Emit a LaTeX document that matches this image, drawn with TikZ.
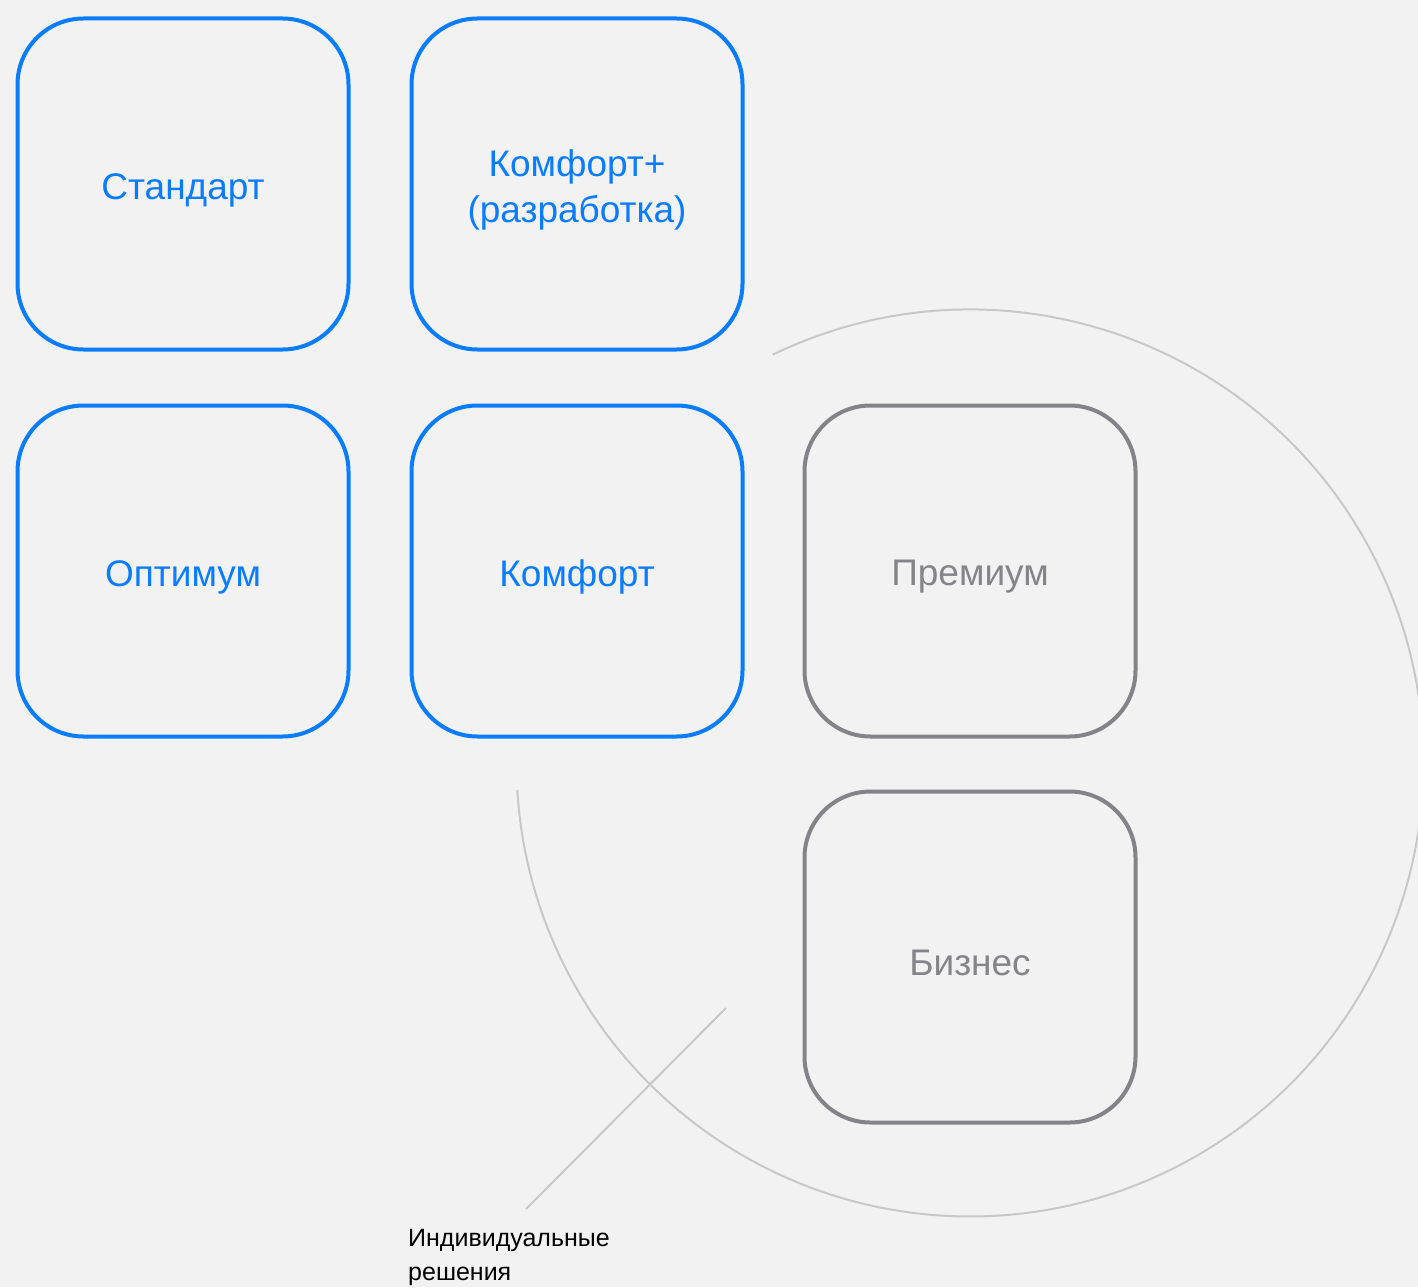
\documentclass[tikz,border=0pt]{standalone}
\usepackage{fontspec}
\setmainfont{Liberation Sans}
\definecolor{bg}{HTML}{F2F2F2}
\definecolor{blueline}{HTML}{0A7CFF}
\definecolor{greyline}{HTML}{848488}
\definecolor{greytext}{HTML}{858589}
\definecolor{circ}{HTML}{C8C8C8}
\newcommand\tlow[1]{\raisebox{-6pt}[\height][\depth]{#1}}
\begin{document}
\begin{tikzpicture}[x=1pt,y=-1pt,
  tile/.style={draw, line width=4pt, rounded corners=66pt, minimum width=331pt, minimum height=331pt, inner sep=0pt, align=center, font=\fontsize{37}{46}\selectfont},
  bluetile/.style={tile, draw=blueline, text=blueline},
  greytile/.style={tile, draw=greyline, text=greytext},
  thin/.style={draw=circ, line width=2pt}]
\fill[bg] (0,0) rectangle (1418,1287);
\useasboundingbox (0,0) rectangle (1418,1287);
\clip (0,0) rectangle (1418,1287);
% circle arc
\coordinate (cc) at (970,763);
\draw[thin] (cc) ++(-115.8:453.5) arc[start angle=-115.8, end angle=176.6, radius=453.5];
% tiles
\node[bluetile] (standart) at (183,184) {\tlow{Стандарт}};
\node[bluetile] (komfortplus) at (577,184) {\tlow{Комфорт+}\\\tlow{(разработка)}};
\node[bluetile] (optimum) at (183,571) {\tlow{Оптимум}};
\node[bluetile] (komfort) at (577,571) {\tlow{Комфорт}};
\node[greytile] (premium) at (970,571) {\tlow{Премиум}};
\node[greytile] (biznes) at (970,957) {\tlow{Бизнес}};
% pointer line and label
\coordinate (lineA) at (726,1008);
\coordinate (lineB) at (526,1209);
\draw[thin] (lineA) -- (lineB);
\node[anchor=base west, inner sep=0pt, align=left, font=\fontsize{25}{34}\selectfont] (label) at (408,1280) {Индивидуальные\\решения};
\end{tikzpicture}
\end{document}
